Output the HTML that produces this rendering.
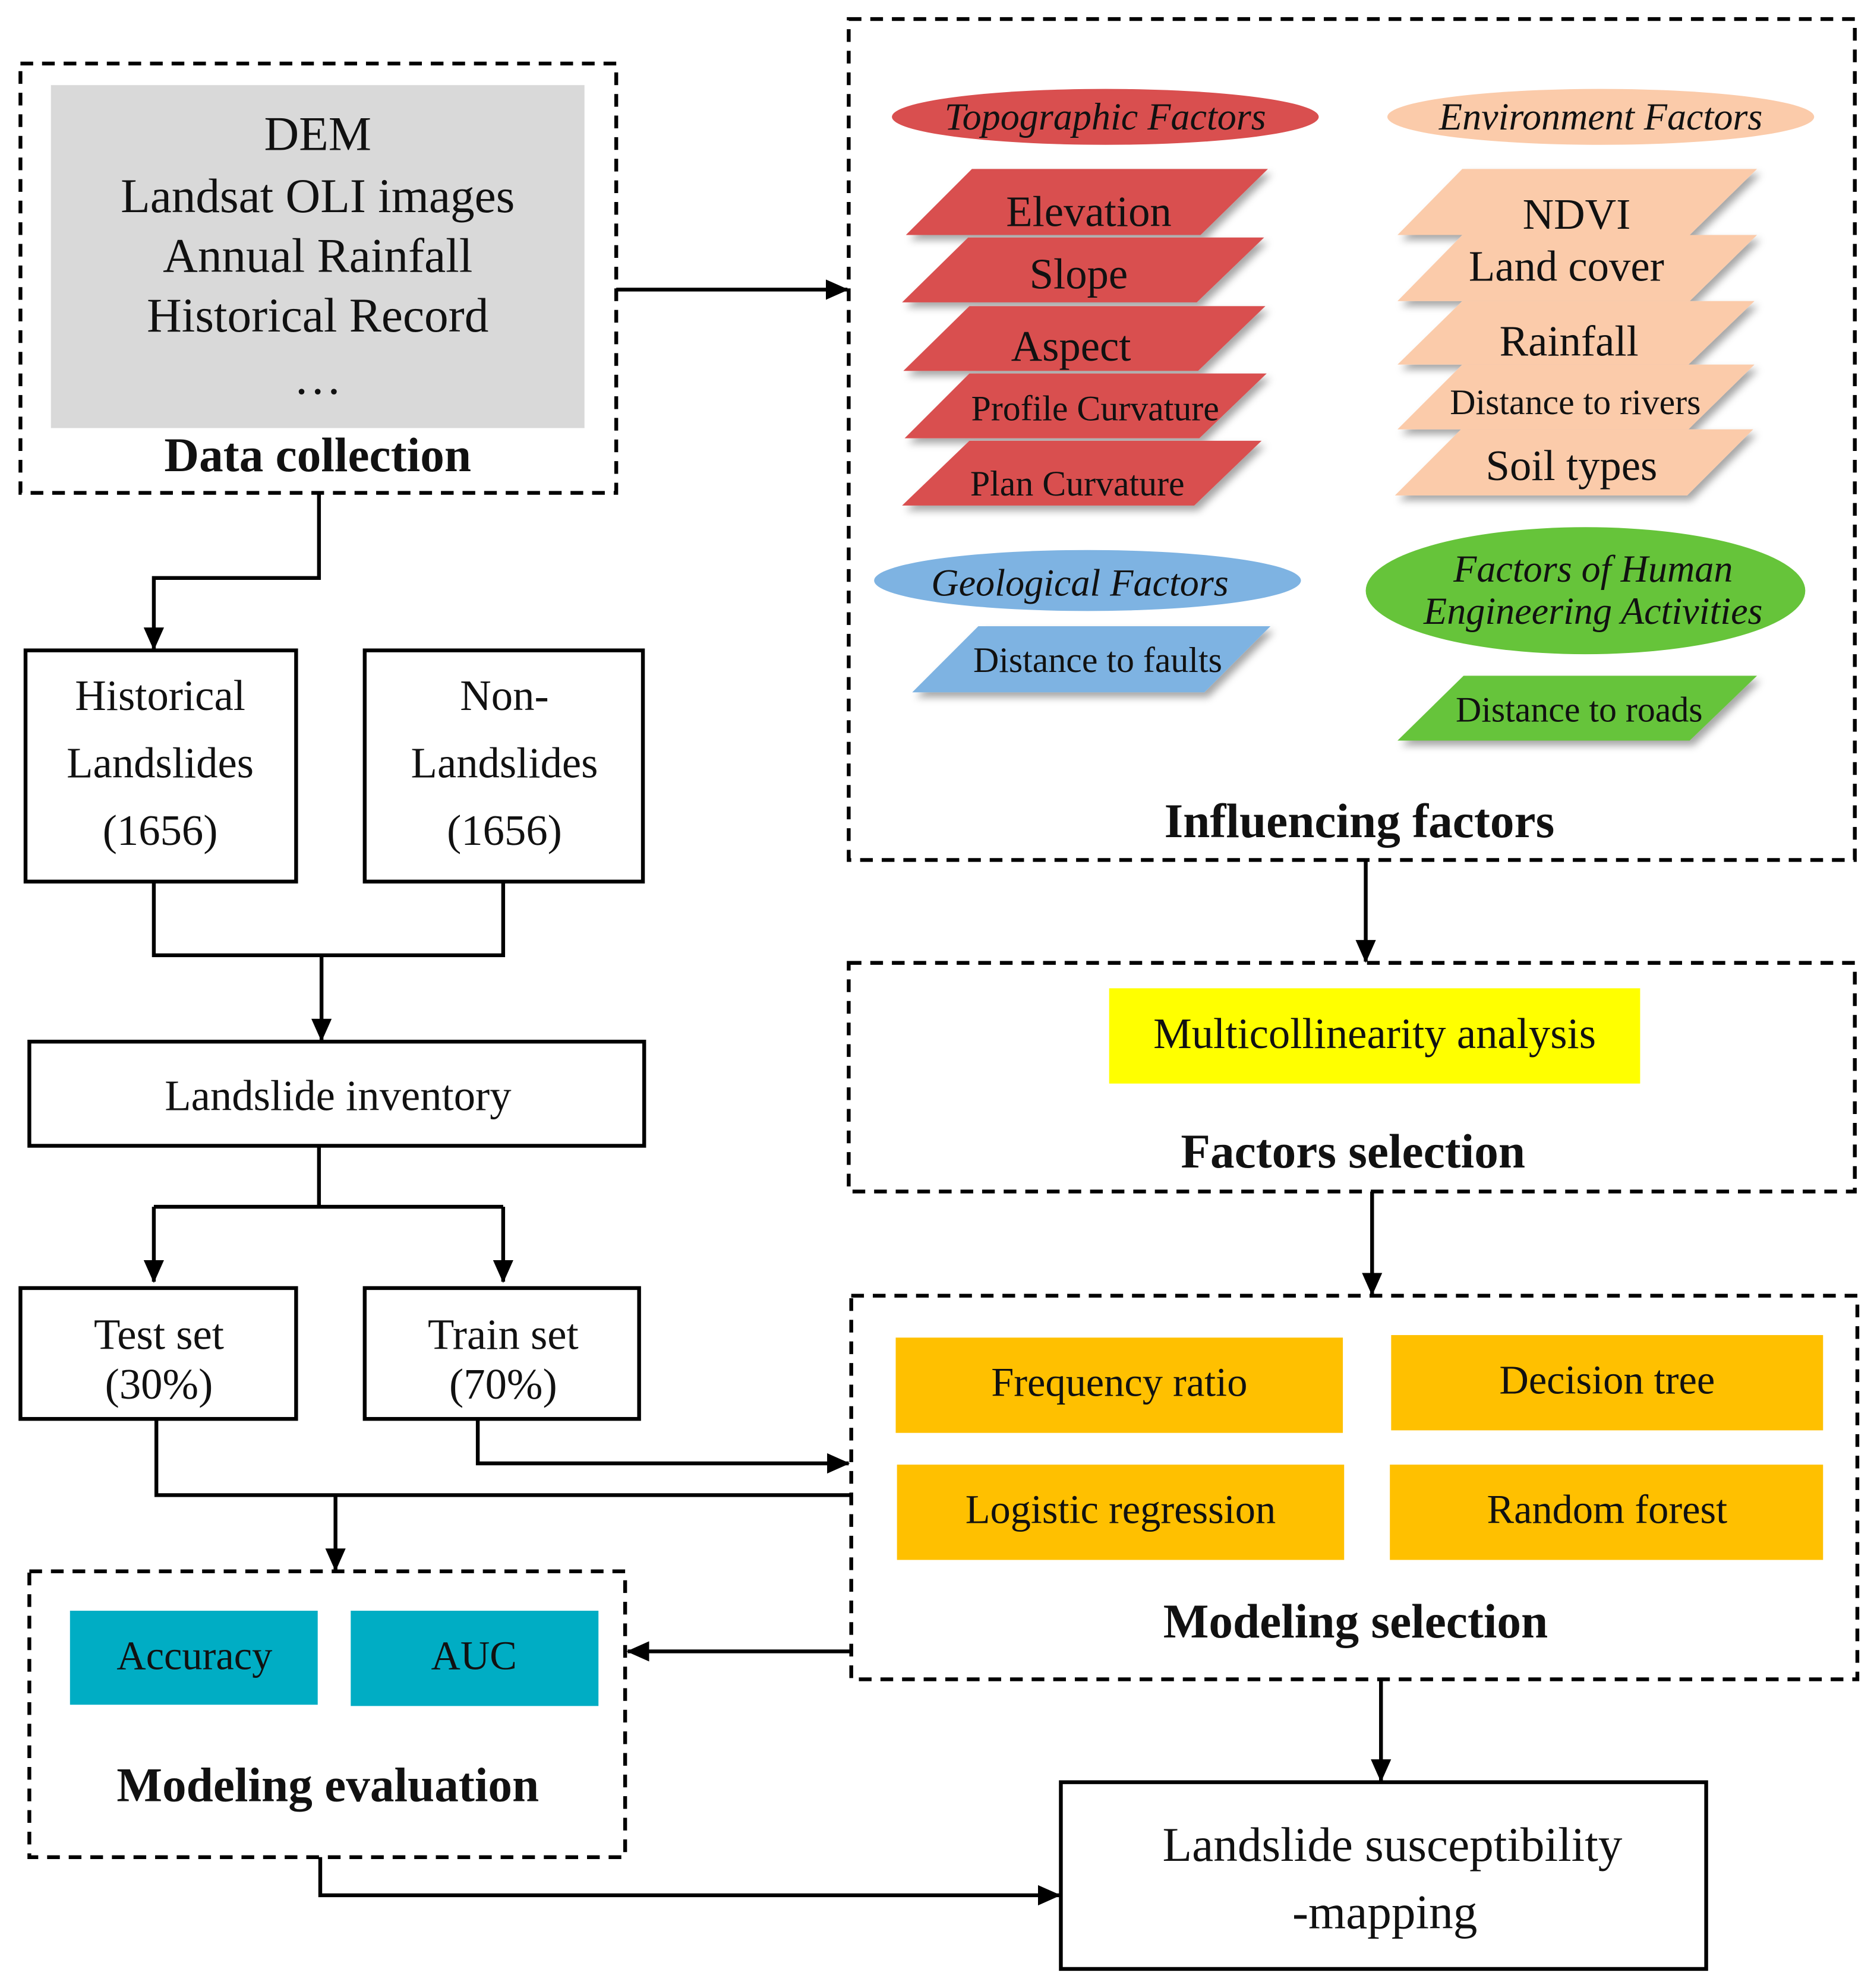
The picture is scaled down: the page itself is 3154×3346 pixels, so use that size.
<!DOCTYPE html>
<html><head><meta charset="utf-8"><style>
html,body{margin:0;padding:0;background:#fff}
svg{display:block}
text{font-family:"Liberation Serif",serif;fill:#111}
</style></head><body>
<svg width="3154" height="3346" viewBox="0 0 1475 1565" xmlns="http://www.w3.org/2000/svg">
<defs>
<marker id="a" markerWidth="18" markerHeight="16" refX="17" refY="8" orient="auto" markerUnits="userSpaceOnUse" viewBox="0 0 18 16"><path d="M0,0 L18,8 L0,16 z" fill="#000"/></marker>
<filter id="sh" x="-10%" y="-20%" width="130%" height="160%"><feDropShadow dx="3" dy="4" stdDeviation="3" flood-color="#000" flood-opacity="0.35"/></filter>
</defs>
<g fill="none" stroke="#000" stroke-width="3" stroke-dasharray="10,7">
<rect x="16" y="50" width="469" height="338"/>
<rect x="668" y="15" width="792" height="662"/>
<rect x="668" y="758" width="792" height="180"/>
<rect x="670" y="1020" width="792" height="302"/>
<rect x="23" y="1237" width="469" height="225"/>
</g>
<rect x="40" y="67" width="420" height="270" fill="#d9d9d9"/>
<g font-size="38" text-anchor="middle">
<text x="250" y="118">DEM</text>
<text x="250" y="167">Landsat OLI images</text>
<text x="250" y="214">Annual Rainfall</text>
<text x="250" y="261">Historical Record</text>
<text x="250" y="310">…</text>
</g>
<g font-size="38" font-weight="bold" text-anchor="middle">
<text x="250" y="371">Data collection</text>
<text x="1070" y="659">Influencing factors</text>
<text x="1065" y="919">Factors selection</text>
<text x="1067" y="1289">Modeling selection</text>
<text x="258" y="1418">Modeling evaluation</text>
</g>
<ellipse cx="870" cy="92" rx="168" ry="22" fill="#d94f4f"/>
<ellipse cx="1260" cy="92" rx="168" ry="22" fill="#fbcbaa"/>
<ellipse cx="856" cy="457" rx="168" ry="24" fill="#7eb3e2"/>
<ellipse cx="1248" cy="465" rx="173" ry="50" fill="#66c43a"/>
<g font-size="30" font-style="italic" text-anchor="middle">
<text x="870" y="102">Topographic Factors</text>
<text x="1260" y="102">Environment Factors</text>
<text x="850" y="469">Geological Factors</text>
<text x="1254" y="458">Factors of Human</text>
<text x="1254" y="491">Engineering Activities</text>
</g>
<g filter="url(#sh)">
<polygon points="765,133 998,133 945,185 713,185" fill="#d94f4f"/>
<polygon points="762,187 995,187 942,238 710,238" fill="#d94f4f"/>
<polygon points="763,241 996,241 943,292 711,292" fill="#d94f4f"/>
<polygon points="763,294 997,294 944,345 712,345" fill="#d94f4f"/>
<polygon points="763,347 993,347 940,398 710,398" fill="#d94f4f"/>
<polygon points="1151,133 1383,133 1330,185 1100,185" fill="#fbcbaa"/>
<polygon points="1151,185 1383,185 1330,237 1100,237" fill="#fbcbaa"/>
<polygon points="1151,237 1381,237 1329,287 1100,287" fill="#fbcbaa"/>
<polygon points="1151,287 1381,287 1329,338 1100,338" fill="#fbcbaa"/>
<polygon points="1150,338 1380,338 1328,390 1098,390" fill="#fbcbaa"/>
<polygon points="770,493 1000,493 948,545 718,545" fill="#7eb3e2"/>
<polygon points="1152,532 1383,532 1330,583 1100,583" fill="#66c43a"/>
</g>
<g text-anchor="middle">
<text x="857" y="178" font-size="34">Elevation</text>
<text x="849" y="227" font-size="34">Slope</text>
<text x="843" y="284" font-size="34">Aspect</text>
<text x="862" y="331" font-size="28">Profile Curvature</text>
<text x="848" y="390" font-size="28">Plan Curvature</text>
<text x="1241" y="180" font-size="34">NDVI</text>
<text x="1233" y="221" font-size="34">Land cover</text>
<text x="1235" y="280" font-size="34">Rainfall</text>
<text x="1240" y="326" font-size="28">Distance to rivers</text>
<text x="1237" y="378" font-size="34">Soil types</text>
<text x="864" y="529" font-size="28">Distance to faults</text>
<text x="1243" y="568" font-size="28">Distance to roads</text>
</g>
<g fill="#fff" stroke="#000" stroke-width="3">
<rect x="20" y="512" width="213" height="182"/>
<rect x="287" y="512" width="219" height="182"/>
<rect x="23" y="820" width="484" height="82"/>
<rect x="16" y="1014" width="217" height="103"/>
<rect x="287" y="1014" width="216" height="103"/>
<rect x="835" y="1403" width="508" height="147"/>
</g>
<g font-size="34" text-anchor="middle">
<text x="126" y="559">Historical</text>
<text x="126" y="612">Landslides</text>
<text x="126" y="665">(1656)</text>
<text x="397" y="559">Non-</text>
<text x="397" y="612">Landslides</text>
<text x="397" y="665">(1656)</text>
<text x="266" y="874">Landslide inventory</text>
<text x="125" y="1062">Test set</text>
<text x="125" y="1101">(30%)</text>
<text x="396" y="1062">Train set</text>
<text x="396" y="1101">(70%)</text>
<text x="1096" y="1465" font-size="38">Landslide susceptibility</text>
<text x="1090" y="1518" font-size="38">-mapping</text>
</g>
<rect x="873" y="778" width="418" height="75" fill="#ffff00"/>
<text x="1082" y="825" font-size="34" text-anchor="middle">Multicollinearity analysis</text>
<g fill="#ffc000">
<rect x="705" y="1053" width="352" height="75"/>
<rect x="1095" y="1051" width="340" height="75"/>
<rect x="706" y="1153" width="352" height="75"/>
<rect x="1094" y="1153" width="341" height="75"/>
</g>
<g font-size="32" text-anchor="middle">
<text x="881" y="1099">Frequency ratio</text>
<text x="1265" y="1097">Decision tree</text>
<text x="882" y="1199">Logistic regression</text>
<text x="1265" y="1199">Random forest</text>
</g>
<g fill="#00adc4">
<rect x="55" y="1268" width="195" height="74"/>
<rect x="276" y="1268" width="195" height="75"/>
</g>
<g font-size="32" text-anchor="middle">
<text x="153" y="1314">Accuracy</text>
<text x="373" y="1314">AUC</text>
</g>
<g fill="none" stroke="#000" stroke-width="3">
<path d="M485,228 H667" marker-end="url(#a)"/>
<path d="M251,388 V455 H121 V511" marker-end="url(#a)"/>
<path d="M121,694 V752 H396 V694"/>
<path d="M253,752 V819" marker-end="url(#a)"/>
<path d="M251,902 V950"/>
<path d="M121,950 H396"/>
<path d="M121,950 V1009" marker-end="url(#a)"/>
<path d="M396,950 V1009" marker-end="url(#a)"/>
<path d="M376,1117 V1152 H668" marker-end="url(#a)"/>
<path d="M123,1117 V1177 H670"/>
<path d="M264,1177 V1236" marker-end="url(#a)"/>
<path d="M670,1300 H494" marker-end="url(#a)"/>
<path d="M1075,677 V757" marker-end="url(#a)"/>
<path d="M1080,938 V1019" marker-end="url(#a)"/>
<path d="M1087,1322 V1402" marker-end="url(#a)"/>
<path d="M252,1462 V1492 H834" marker-end="url(#a)"/>
</g>
</svg>
</body></html>
